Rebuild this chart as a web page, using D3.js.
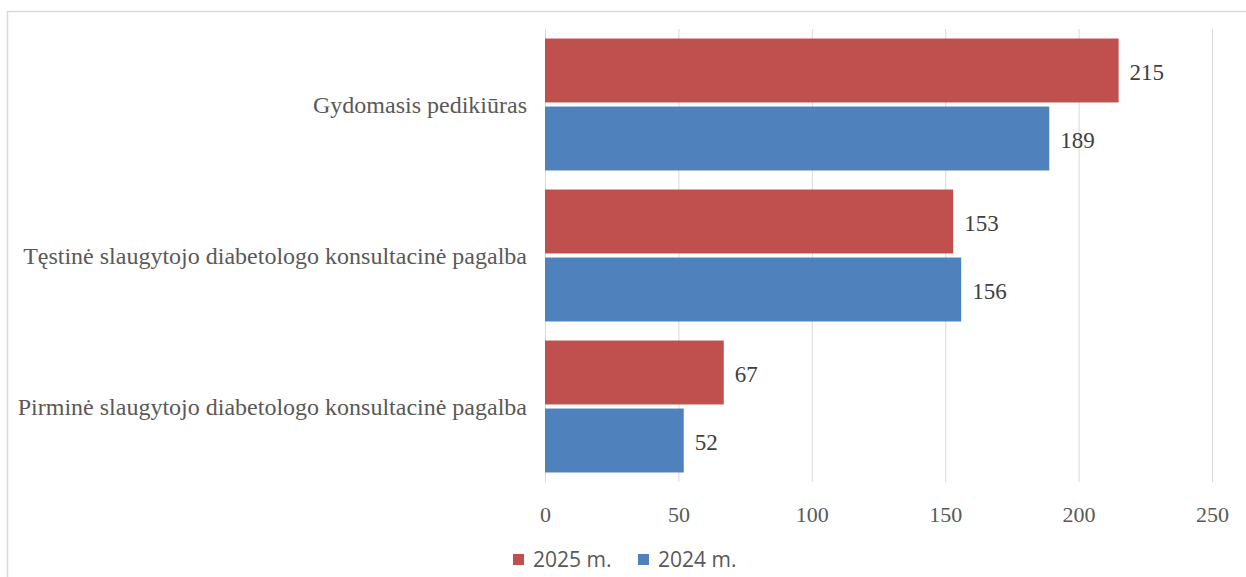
<!DOCTYPE html>
<html><head><meta charset="utf-8">
<script src="https://cdn.jsdelivr.net/npm/d3@7"></script>
<style>body{margin:0;background:#fff}svg{display:block}</style>
</head><body><svg id="c" width="1246" height="577"></svg>
<script>
const categories = ["Gydomasis pedikiūras","Tęstinė slaugytojo diabetologo konsultacinė pagalba","Pirminė slaugytojo diabetologo konsultacinė pagalba"];
const seriesNames = ["2025 m.","2024 m."];
const values2025 = [215,153,67];
const values2024 = [189,156,52];
const xTicks = [0,50,100,150,200,250];
const colors = ["#C0504D","#4F81BD"];

const svg = d3.select("#c");
svg.append("rect").attr("x",7.5).attr("y",11.5).attr("width",1260).attr("height",600)
  .attr("fill","none").attr("stroke","#d9d9d9").attr("stroke-width",1.5);

const m = {left:545, right:1212, top:29, bottom:482};
const x = d3.scaleLinear().domain([0,250]).range([m.left,m.right]);
const y = d3.scaleBand().domain(categories).range([m.top,m.bottom]).paddingInner(0).paddingOuter(0);
const ys = d3.scaleBand().domain(seriesNames).range([0,y.bandwidth()]).paddingInner(0.06).paddingOuter(0.14);

// gridlines
svg.append("g").selectAll("line").data(xTicks).join("line")
  .attr("x1",d=>x(d)+0.5).attr("x2",d=>x(d)+0.5).attr("y1",m.top).attr("y2",m.bottom)
  .attr("stroke","#d9d9d9").attr("stroke-width",1);

// axis
const ax = svg.append("g").attr("transform",`translate(0,${m.bottom})`)
  .call(d3.axisBottom(x).tickValues(xTicks).tickSize(0).tickPadding(24));
ax.select(".domain").remove();
ax.selectAll("text").attr("font-family","'Liberation Serif',serif").attr("font-size",22).attr("fill","#595959");

const data = [values2025, values2024];
const g = svg.append("g");
seriesNames.forEach((s,si)=>{
  g.selectAll(".b"+si).data(categories).join("rect")
    .attr("x",x(0)).attr("y",c=>y(c)+ys(s))
    .attr("width",(c,i)=>x(data[si][i])-x(0)).attr("height",ys.bandwidth())
    .attr("fill",colors[si]);
  g.selectAll(".l"+si).data(categories).join("text")
    .attr("x",(c,i)=>x(data[si][i])+11).attr("y",c=>y(c)+ys(s)+ys.bandwidth()/2+1)
    .attr("dy","0.35em").attr("font-family","'Liberation Serif',serif").attr("font-size",23)
    .attr("fill","#404040").text((c,i)=>data[si][i]);
});

// category labels
svg.append("g").selectAll("text").data(categories).join("text")
  .attr("x",527).attr("y",c=>y(c)+y.bandwidth()/2).attr("dy","0.35em")
  .attr("text-anchor","end").attr("font-family","'Liberation Serif',serif").attr("font-size",24)
  .attr("fill","#595959").text(d=>d);

// legend
const lg = svg.append("g").attr("transform","translate(513,560)");
const lx = [0,125];
seriesNames.forEach((s,i)=>{
  lg.append("rect").attr("x",lx[i]).attr("y",-6).attr("width",11).attr("height",11).attr("fill",colors[i]);
  lg.append("text").attr("x",lx[i]+20).attr("y",0).attr("dy","0.35em")
    .attr("font-family","'Open Sans',sans-serif").attr("font-size",21).attr("fill","#595959").text(s);
});
</script></body></html>
